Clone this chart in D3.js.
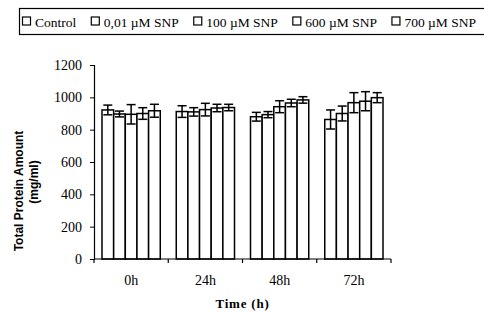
<!DOCTYPE html>
<html>
<head>
<meta charset="utf-8">
<script src="https://cdn.jsdelivr.net/npm/d3@7"></script>
<style>
  body { margin: 0; background: #fff; }
  svg { display: block; }
</style>
</head>
<body>
<div id="chart"></div>
<script>
const times = ["0h", "24h", "48h", "72h"];
const series = ["Control", "0,01 \u00b5M SNP", "100 \u00b5M SNP", "600 \u00b5M SNP", "700 \u00b5M SNP"];
// values[time][series]
const values = [
  [922, 897, 895, 900, 917],
  [912, 910, 924, 934, 937],
  [880, 893, 942, 965, 984],
  [863, 900, 967, 976, 998]
];
const errors = [
  [30, 18, 60, 36, 40],
  [36, 26, 39, 23, 20],
  [27, 19, 37, 23, 20],
  [59, 46, 62, 59, 31]
];
const yTicks = [0, 200, 400, 600, 800, 1000, 1200];

const width = 484, height = 313;
const margin = {top: 65, left: 94, right: 93, bottom: 54};
const innerW = width - margin.left - margin.right;
const innerH = height - margin.top - margin.bottom;
const serif = "'Liberation Serif', 'Times New Roman', serif";

const svg = d3.select("#chart").append("svg")
  .attr("width", width)
  .attr("height", height);

const g = svg.append("g")
  .attr("transform", `translate(${margin.left},${margin.top})`);

const x0 = d3.scaleBand().domain(times).range([0, innerW]).paddingInner(0).paddingOuter(0);
const x1 = d3.scaleBand().domain(series).range([8, x0.bandwidth() - 8]).padding(0);
const y = d3.scaleLinear().domain([0, 1200]).range([innerH, 0]);

// bars
const groups = g.selectAll(".grp")
  .data(times)
  .enter().append("g")
    .attr("class", "grp")
    .attr("transform", d => `translate(${x0(d)},0)`);

groups.each(function(t, i) {
  const sel = d3.select(this);
  const rows = series.map((s, j) => ({s, v: values[i][j], e: errors[i][j]}));

  sel.selectAll("rect")
    .data(rows)
    .enter().append("rect")
      .attr("x", d => x1(d.s))
      .attr("y", d => y(d.v))
      .attr("width", x1.bandwidth())
      .attr("height", d => innerH - y(d.v))
      .attr("fill", "#fff")
      .attr("stroke", "#000")
      .attr("stroke-width", 1.5);

  const err = sel.selectAll(".err")
    .data(rows)
    .enter().append("g")
      .attr("class", "err")
      .attr("stroke", "#000")
      .attr("stroke-width", 1.5);
  const cx = d => x1(d.s) + x1.bandwidth() / 2;
  err.append("line")
    .attr("x1", cx).attr("x2", cx)
    .attr("y1", d => y(d.v + d.e))
    .attr("y2", d => y(d.v - d.e));
  err.append("line")
    .attr("x1", d => cx(d) - 4.5).attr("x2", d => cx(d) + 4.5)
    .attr("y1", d => y(d.v + d.e))
    .attr("y2", d => y(d.v + d.e));
  err.append("line")
    .attr("x1", d => cx(d) - 4.5).attr("x2", d => cx(d) + 4.5)
    .attr("y1", d => y(d.v - d.e))
    .attr("y2", d => y(d.v - d.e));
});

// y axis
const yAxis = g.append("g")
  .call(d3.axisLeft(y).tickValues(yTicks).tickSize(4).tickPadding(8).tickFormat(d3.format("d")));
yAxis.select(".domain").attr("stroke", "#000").attr("stroke-width", 1.2);
yAxis.selectAll(".tick line").attr("stroke", "#000");
yAxis.selectAll("text")
  .attr("font-family", serif)
  .attr("font-size", 14)
  .attr("fill", "#000");

// x axis: ticks at band boundaries
const xAxis = g.append("g").attr("transform", `translate(0,${innerH})`);
xAxis.append("line")
  .attr("x1", 0).attr("x2", innerW)
  .attr("stroke", "#000").attr("stroke-width", 1.2);
const bounds = times.map(t => x0(t)).concat([innerW]);
xAxis.selectAll(".xt")
  .data(bounds)
  .enter().append("line")
    .attr("x1", d => d).attr("x2", d => d)
    .attr("y1", 0).attr("y2", 4)
    .attr("stroke", "#000").attr("stroke-width", 1.2);
xAxis.selectAll(".xl")
  .data(times)
  .enter().append("text")
    .attr("x", d => x0(d) + x0.bandwidth() / 2)
    .attr("y", 26)
    .attr("text-anchor", "middle")
    .attr("font-family", serif)
    .attr("font-size", 14)
    .text(d => d);

// axis titles
svg.append("text")
  .attr("x", margin.left + innerW / 2)
  .attr("y", 308)
  .attr("text-anchor", "middle")
  .attr("font-family", serif)
  .attr("font-weight", "bold")
  .attr("font-size", 13)
  .attr("letter-spacing", 0.8)
  .text("Time (h)");

const yt = svg.append("text")
  .attr("transform", "translate(22.5,191) rotate(-90)")
  .attr("text-anchor", "middle")
  .attr("font-family", "'Liberation Sans', Arial, sans-serif")
  .attr("font-weight", "bold")
  .attr("font-size", 12);
yt.append("tspan").attr("x", 0).attr("dy", 0).text("Total Protein Amount");
yt.append("tspan").attr("x", 9).attr("dy", 15).text("(mg/ml)");

// legend
svg.append("rect")
  .attr("x", 19.5).attr("y", 8.5)
  .attr("width", 480).attr("height", 26)
  .attr("fill", "none")
  .attr("stroke", "#000")
  .attr("stroke-width", 1.2);

const leg = svg.selectAll(".leg")
  .data(series)
  .enter().append("g")
    .attr("class", "leg");
leg.append("rect")
  .attr("x", 0.5).attr("y", -4.5)
  .attr("width", 8).attr("height", 8)
  .attr("fill", "#fff")
  .attr("stroke", "#000")
  .attr("stroke-width", 1.2);
leg.append("text")
  .attr("x", 13)
  .attr("y", 5)
  .attr("font-family", serif)
  .attr("font-size", 13.5)
  .text(d => d);

// lay items out in a row from x=22 to x=476
const widths = [];
leg.select("text").each(function() { widths.push(13 + this.getComputedTextLength()); });
const gap = (476 - 22 - d3.sum(widths)) / (series.length - 1);
let lx = 22;
leg.attr("transform", (d, i) => {
  const t = `translate(${lx},21.5)`;
  lx += widths[i] + gap;
  return t;
});
</script>
</body>
</html>
